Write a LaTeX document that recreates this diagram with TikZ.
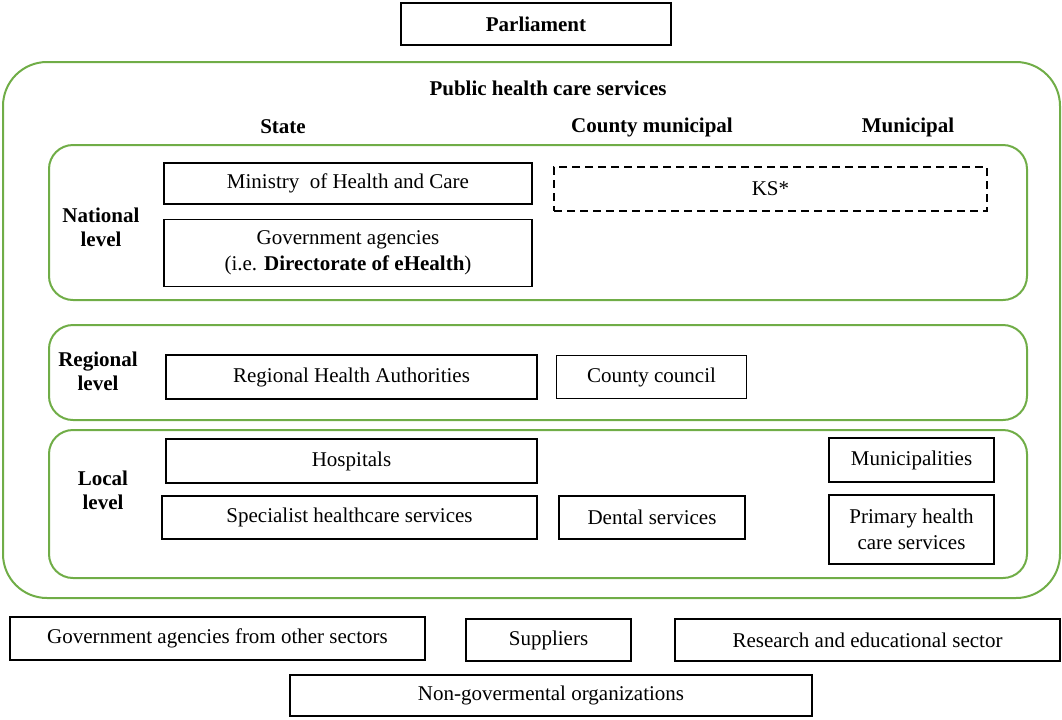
\documentclass[tikz,border=0pt]{standalone}
\usepackage{fontspec}
\setmainfont{Liberation Serif}
\usepackage{xcolor}
\definecolor{levelborder}{RGB}{112,173,71}
\usetikzlibrary{positioning}
\usetikzlibrary{backgrounds}

\begin{document}
\begin{tikzpicture}[x=0.5pt,y=-0.5pt,
      font=\fontsize{10.5}{13}\selectfont,
      unit style/.style={rectangle,draw=black,line width=0.75pt,inner sep=0pt,
        minimum height=21.5pt,align=center},
      ks style/.style={unit style,dash pattern=on 4pt off 2.5pt},
      level style/.style={rectangle,draw=levelborder,line width=1pt,
        rounded corners=12pt,minimum width=489pt,inner sep=0pt},
      head style/.style={font=\fontsize{10.5}{12}\selectfont\bfseries,align=center,inner sep=0pt}
      ]
      \useasboundingbox (0,0) rectangle (1062,719);

      \node[unit style, minimum width=135pt, minimum height=21pt] (parl) at (536,24) {\bfseries Parliament};

      % public sector frame and levels
      \node[rectangle,draw=levelborder,line width=1pt,rounded corners=22pt,
        minimum width=528.5pt,minimum height=268pt] (phcs) at (531.5,330) {};
      \node[head style] (phcstitle) at (548,88) {Public health care services};
      \node[head style] (state) at (283,127) {State};
      \node[head style] (county) at (652,127) {County municipal};
      \node[head style] (muni) at (908,127) {Municipal};

      \node[level style, minimum height=77.5pt] (national) at (538,222.5) {};
      \node[level style, minimum height=47.5pt] (regional) at (538,372.5) {};
      \node[level style, minimum height=74pt] (local) at (538,504) {};

      \node[head style] (natlabel) at (101,227) {National\\level};
      \node[head style] (reglabel) at (98,371) {Regional\\level};
      \node[head style] (loclabel) at (103,490) {Local\\level};

      % national level
      \node[unit style, minimum width=184pt, minimum height=20.5pt] (ministry) at (348,183.5) {Ministry\ \ of Health and Care};
      \node[unit style, minimum width=184pt, minimum height=33.5pt, below=7pt of ministry] (govag) {Government agencies\\(i.e. \textbf{Directorate of eHealth})};
      \node[ks style, minimum width=216.5pt, minimum height=22pt] (ks) at (770.5,189) {KS*};

      % regional level
      \node[unit style, minimum width=185.5pt, minimum height=22pt] (rha) at (351.5,377) {Regional Health Authorities};
      \node[unit style, minimum width=95pt, right=9pt of rha] (council) {County council};

      % local level
      \node[unit style, minimum width=185.5pt, minimum height=22pt] (hosp) at (351.5,461) {Hospitals};
      \node[unit style, minimum width=187.5pt] (spec) at (349.5,517.5) {Specialist healthcare services};
      \node[unit style, minimum width=93pt] (dental) at (652,517.5) {Dental services};
      \node[unit style, minimum width=82.5pt, minimum height=22pt] (munis) at (911.5,460) {Municipalities};
      \node[unit style, minimum width=82.5pt, minimum height=34.5pt] (primary) at (911.5,529.5) {Primary health\\care services};

      % outside actors
      \node[unit style, minimum width=207.5pt] (othergov) at (217.5,638.5) {Government agencies from other sectors};
      \node[unit style, minimum width=82.5pt, minimum height=21pt] (suppliers) at (548.5,640) {Suppliers};
      \node[unit style, minimum width=192.5pt, minimum height=21pt] (research) at (867.5,640) {Research and educational sector};
      \node[unit style, minimum width=261pt, minimum height=20.5pt] (ngo) at (551,695.5) {Non-govermental organizations};
    \end{tikzpicture}
\end{document}
